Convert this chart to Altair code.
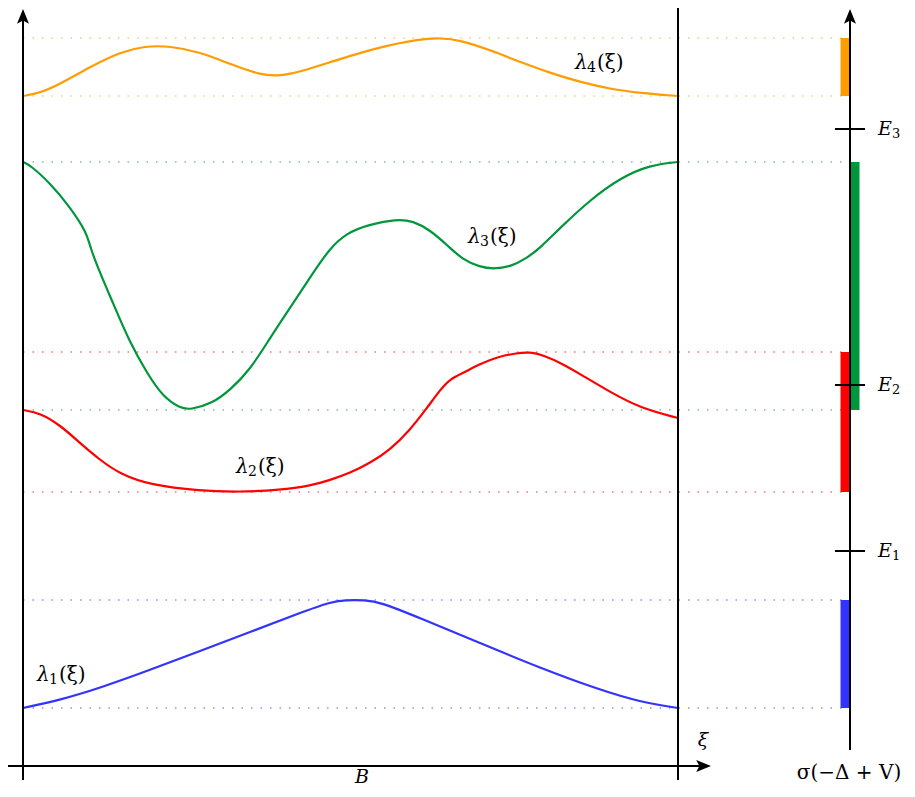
import altair as alt
import pandas as pd

# ---- band functions lambda_k(xi) over the Brillouin zone B (xi from 0 to 655 units) ----
xi_1 = [0, 37, 77, 127, 177, 227, 277, 307, 322, 342, 357, 397, 457, 517, 577, 617, 655]
lam_1 = [58, 66, 78, 96, 115, 134, 153, 164, 166, 166, 164, 148, 123, 98, 76, 64, 58]

xi_2 = [0, 17, 37, 57, 77, 97, 127, 177, 217, 257, 287, 307, 327, 347, 367, 387, 404, 417, 427, 440, 457, 474, 494, 507, 520, 540, 557, 587, 617, 655]
lam_2 = [356, 353, 341, 323, 306, 292, 281, 275, 274, 276, 280, 286, 293, 303, 316, 336, 358, 376, 387, 393, 402, 409, 413, 414, 411, 402, 392, 374, 358, 348]

xi_3 = [0, 7, 27, 47, 64, 67, 77, 90, 107, 124, 140, 157, 167, 190, 207, 227, 247, 267, 290, 307, 324, 344, 374, 390, 407, 424, 440, 457, 470, 487, 504, 517, 537, 567, 597, 627, 655]
lam_3 = [604, 601, 583, 559, 533, 519, 493, 463, 423, 393, 369, 358, 356, 363, 376, 396, 428, 458, 493, 518, 533, 541, 547, 545, 536, 521, 506, 499, 497, 499, 508, 518, 538, 566, 588, 601, 604]

xi_4 = [0, 17, 37, 67, 97, 122, 147, 177, 207, 237, 257, 277, 317, 357, 397, 417, 437, 467, 497, 527, 557, 587, 617, 655]
lam_4 = [670, 673, 682, 699, 714, 720, 720, 714, 702, 691, 690, 694, 707, 719, 727, 728, 726, 716, 704, 693, 684, 677, 673, 670]

bands = ["1", "2", "3", "4"]
band_colors = ["#3333FF", "#FF0000", "#00963C", "#FF9C00"]
label_left = [14, 213, 445, 552]
label_lam = [91, 299, 529, 703]
bar_side = ["left", "left", "right", "left"]

# ---- gap energies ----
gap_sub = ["1", "2", "3"]
gap_values = [215, 381, 637]

# layout constants (units = plot units)
XI_MAX = 655
SPEC_X = 827
BAR_W = 9.5
X_DOM = [-15, 884]
Y_DOM = [-23, 758]
SERIF = "DejaVu Serif"

series = [(xi_1, lam_1), (xi_2, lam_2), (xi_3, lam_3), (xi_4, lam_4)]

rows = []
for b, (xs_, ys_) in zip(bands, series):
    for i, (x, y) in enumerate(zip(xs_, ys_)):
        rows.append({"band": b, "xi": x, "lam": y, "i": i})
curves = pd.DataFrame(rows)

lev_rows, bar_rows = [], []
for b, (xs_, ys_), side in zip(bands, series, bar_side):
    lo, hi = min(ys_), max(ys_)
    lev_rows.append({"band": b, "y": lo, "x": 0, "x2": SPEC_X - 8})
    lev_rows.append({"band": b, "y": hi, "x": 0, "x2": SPEC_X - 8})
    if side == "left":
        bar_rows.append({"band": b, "x": SPEC_X - BAR_W, "x2": SPEC_X, "y": lo, "y2": hi})
    else:
        bar_rows.append({"band": b, "x": SPEC_X, "x2": SPEC_X + BAR_W, "y": lo, "y2": hi})
levels = pd.DataFrame(lev_rows)
bars = pd.DataFrame(bar_rows)

labels = pd.DataFrame({"band": bands, "xi": label_left, "lam": label_lam})

xs = alt.Scale(domain=X_DOM, nice=False, zero=False)
ys = alt.Scale(domain=Y_DOM, nice=False, zero=False)
cs = alt.Scale(domain=bands, range=band_colors)

X = lambda f: alt.X(f, type="quantitative", scale=xs, axis=None)
Y = lambda f: alt.Y(f, type="quantitative", scale=ys, axis=None)
C = alt.Color("band:N", scale=cs, legend=None)

dotted = alt.Chart(levels).mark_rule(strokeDash=[1.5, 8], strokeWidth=1.5, opacity=0.55).encode(
    x=X("x"), x2="x2", y=Y("y"), color=C
)

lines = alt.Chart(curves).mark_line(strokeWidth=2.2, interpolate="basis").encode(
    x=X("xi"), y=Y("lam"), color=C, detail="band:N", order="i:Q"
)

bar_marks = alt.Chart(bars).mark_rect().encode(
    x=X("x"), x2="x2", y=Y("y"), y2="y2", color=C
)

# band labels: lambda, subscript, (xi)
lab_main = alt.Chart(labels).mark_text(
    font=SERIF, fontSize=20, fontStyle="italic", color="black", align="left", baseline="middle"
).encode(x=X("xi"), y=Y("lam"), text=alt.value("λ"))
lab_sub = alt.Chart(labels).mark_text(
    font=SERIF, fontSize=14, color="black", align="left", baseline="middle", dx=12, dy=5
).encode(x=X("xi"), y=Y("lam"), text="band:N")
lab_rest = alt.Chart(labels).mark_text(
    font=SERIF, fontSize=20, color="black", align="left", baseline="middle", dx=22
).encode(x=X("xi"), y=Y("lam"), text=alt.value("(ξ)"))

# axes drawn as rules
axes_df = pd.DataFrame([
    {"x": 0, "x2": 0, "y": -14, "y2": 752},           # left vertical axis
    {"x": XI_MAX, "x2": XI_MAX, "y": -14, "y2": 758},  # right edge of B
    {"x": -15, "x2": 684, "y": 0, "y2": 0},            # xi axis
    {"x": SPEC_X, "x2": SPEC_X, "y": 16, "y2": 752},   # spectrum axis
])
axes = alt.Chart(axes_df).mark_rule(color="black", strokeWidth=2).encode(
    x=X("x"), x2="x2", y=Y("y"), y2="y2"
)

gaps = pd.DataFrame({"sub": gap_sub, "E": gap_values})
gap_ticks = alt.Chart(gaps).mark_rule(color="black", strokeWidth=2).encode(
    x=alt.value(827), x2=alt.value(857), y=Y("E")
)
gap_main = alt.Chart(gaps).mark_text(
    font=SERIF, fontSize=19, fontStyle="italic", align="left", baseline="middle", color="black"
).encode(x=alt.value(870), y=Y("E"), text=alt.value("E"))
gap_subt = alt.Chart(gaps).mark_text(
    font=SERIF, fontSize=13, align="left", baseline="middle", color="black", dx=14, dy=5
).encode(x=alt.value(870), y=Y("E"), text="sub:N")

up_path = "M0,-1 L-0.75,0.85 L0,0.45 L0.75,0.85 Z"
right_path = "M1,0 L-0.85,-0.75 L-0.45,0 L-0.85,0.75 Z"
arrows_up = alt.Chart(pd.DataFrame({"x": [0, SPEC_X], "y": [749, 749]})).mark_point(
    shape=up_path, filled=True, color="black", size=256, opacity=1
).encode(x=X("x"), y=Y("y"))
arrow_right = alt.Chart(pd.DataFrame({"x": [680], "y": [0]})).mark_point(
    shape=right_path, filled=True, color="black", size=256, opacity=1
).encode(x=X("x"), y=Y("y"))

misc_it_df = pd.DataFrame({"x": [339, 680], "y": [-11, 26], "text": ["B", "ξ"]})
misc_it = alt.Chart(misc_it_df).mark_text(
    font=SERIF, fontSize=19, fontStyle="italic", color="black", baseline="middle"
).encode(x=X("x"), y=Y("y"), text="text:N")
spec_df = pd.DataFrame({"x": [826], "y": [-7], "text": ["σ(−Δ + V)"]})
spec_lab = alt.Chart(spec_df).mark_text(
    font=SERIF, fontSize=20, color="black", baseline="middle"
).encode(x=X("x"), y=Y("y"), text="text:N")

chart = alt.layer(
    dotted, lines, bar_marks, axes, gap_ticks, arrows_up, arrow_right,
    lab_main, lab_sub, lab_rest, gap_main, gap_subt, misc_it, spec_lab
).properties(
    width=899, height=781, padding=0, autosize=alt.AutoSizeParams(type="none")
).configure_view(strokeWidth=0)

chart.save("out.html", embed_options={"renderer": "svg", "actions": False})
